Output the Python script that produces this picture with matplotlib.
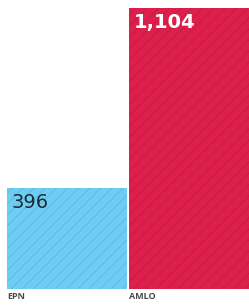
import matplotlib.pyplot as plt

# data
names = ['EPN', 'AMLO']
values = [396, 1104]
labels = ['396', '1,104']
colors = ['#6DCDF2', '#DC1F4B']
hatch_colors = ['#5EBCE2', '#C91B43']
label_colors = ['#1E2B38', 'white']
label_weights = ['normal', 'bold']

plt.rcParams['hatch.linewidth'] = 0.7

fig = plt.figure(figsize=(2.49, 3.07), dpi=100)
ax = fig.add_axes([7 / 249, 18 / 307, 242 / 249, 281 / 307])

x = list(range(len(values)))
ax.bar(x, values, width=0.99, align='edge', color=colors, linewidth=0)
ax.bar(x, values, width=0.99, align='edge', color='none',
       edgecolor=hatch_colors, hatch='///', linewidth=0)

for i, v in enumerate(values):
    ax.text(i + 0.04, v - 20, labels[i], ha='left', va='top',
            fontsize=14, color=label_colors[i], family='DejaVu Sans',
            fontweight=label_weights[i])
    ax.text(i, -12, names[i], ha='left', va='top', fontsize=6.5,
            color='#4a4a4a', family='Open Sans', fontweight='bold')

ax.set_xlim(0, 2 - 0.01)
ax.set_ylim(0, 1104)
ax.axis('off')

fig.savefig('out.png', dpi=100)
